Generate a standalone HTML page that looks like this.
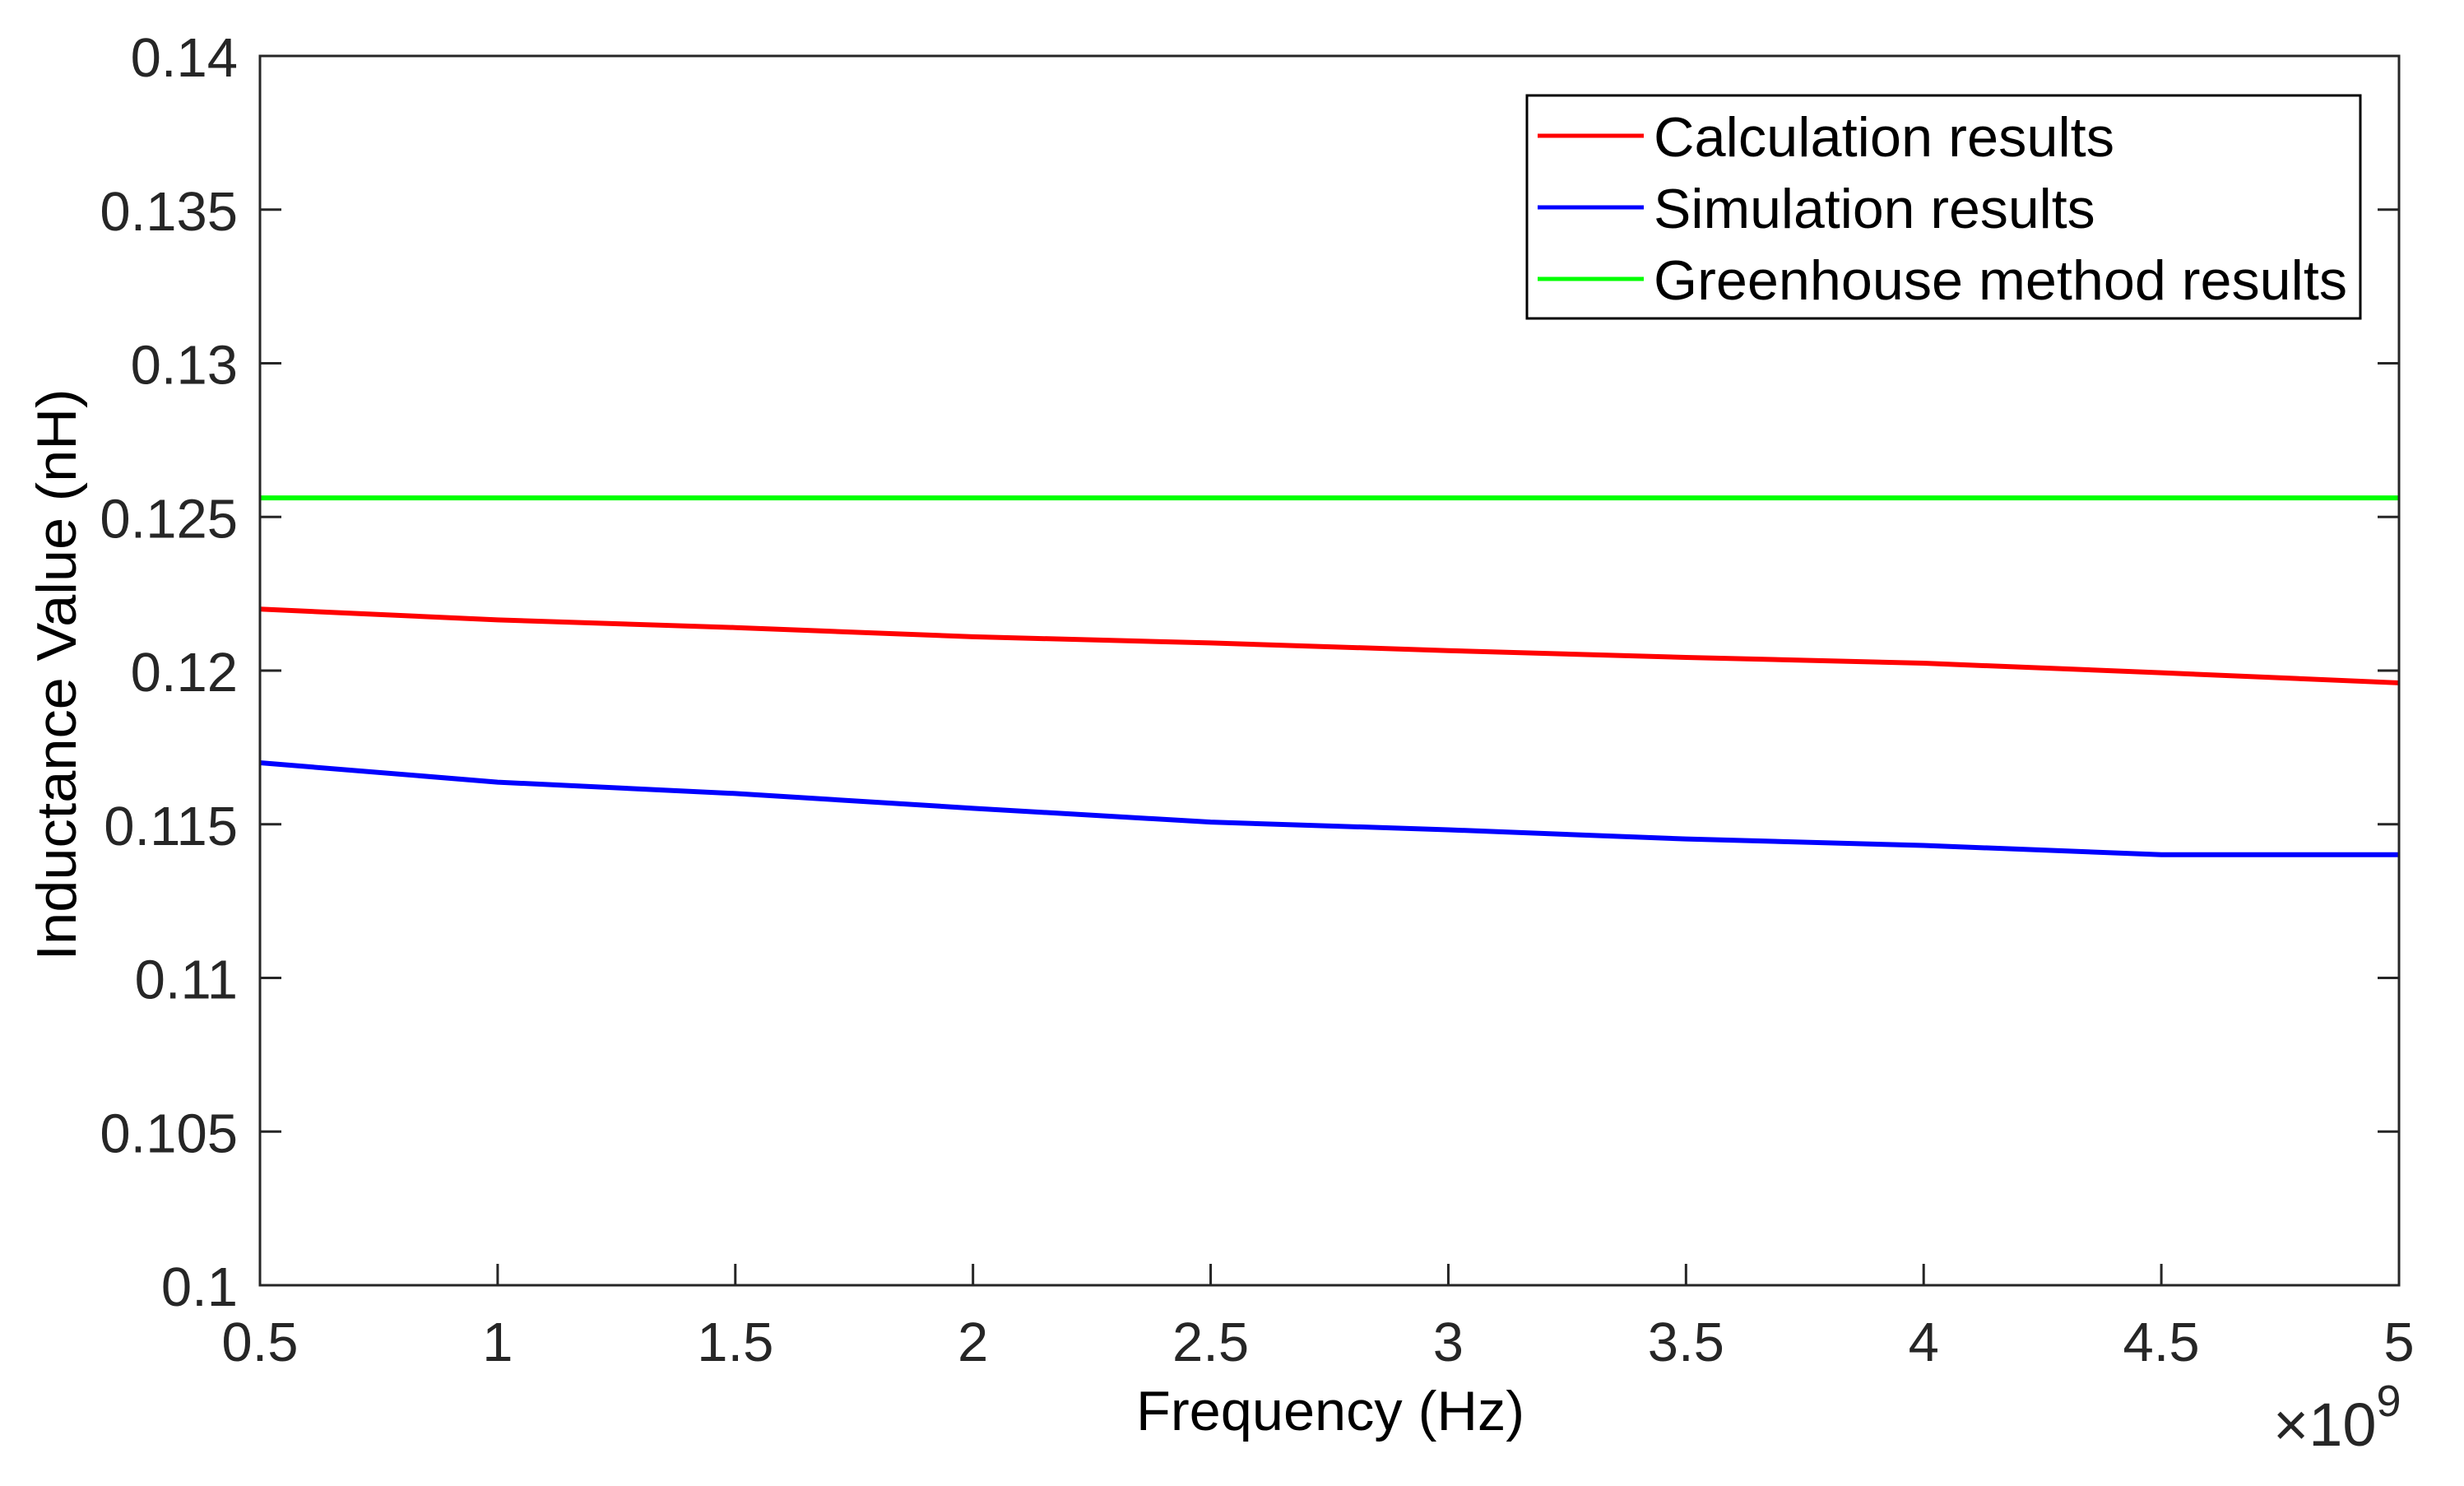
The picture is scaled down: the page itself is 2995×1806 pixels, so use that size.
<!DOCTYPE html>
<html><head><meta charset="utf-8"><style>
html,body{margin:0;padding:0;background:#fff;}
svg{display:block;font-family:"Liberation Sans",Arial,sans-serif;}
</style></head><body>
<svg id="chart" width="2995" height="1806" viewBox="0 0 2995 1806" xmlns="http://www.w3.org/2000/svg">
<rect x="0" y="0" width="2995" height="1806" fill="#fff"/>
<g id="grid"></g>
<g id="series"></g>
<rect x="316" y="68" width="2600" height="1494" fill="none" stroke="#262626" stroke-width="3"/>
<g id="axes"></g>
<text x="1617" y="1738" font-size="68" text-anchor="middle" fill="#000" textLength="472" lengthAdjust="spacingAndGlyphs">Frequency (Hz)</text>
<text transform="translate(92,820) rotate(-90)" font-size="68" text-anchor="middle" fill="#000" textLength="695" lengthAdjust="spacingAndGlyphs">Inductance Value (nH)</text>
<text x="2763" y="1757" font-size="74" fill="#262626">×10<tspan font-size="54" dy="-36">9</tspan></text>
<g>
<rect x="1856" y="116" width="1013" height="271" fill="#fff" stroke="#000" stroke-width="3"/>
<line x1="1869" y1="165" x2="1998" y2="165" stroke="#ff0000" stroke-width="5"/>
<text x="2010" y="190" font-size="68" fill="#000" textLength="560" lengthAdjust="spacingAndGlyphs">Calculation results</text>
<line x1="1869" y1="252" x2="1998" y2="252" stroke="#0000ff" stroke-width="5"/>
<text x="2010" y="277" font-size="68" fill="#000">Simulation results</text>
<line x1="1869" y1="339" x2="1998" y2="339" stroke="#00ff00" stroke-width="5"/>
<text x="2010" y="364" font-size="68" fill="#000" textLength="843" lengthAdjust="spacingAndGlyphs">Greenhouse method results</text>
</g>
</svg>
<script>
const freqs = [0.5, 1, 1.5, 2, 2.5, 3, 3.5, 4, 4.5, 5];
const calcValues = [0.1220, 0.12165, 0.1214, 0.1211, 0.1209, 0.12065, 0.12043, 0.12024, 0.11993, 0.1196];
const simValues = [0.1170, 0.11637, 0.1160, 0.11552, 0.11507, 0.11482, 0.11452, 0.11431, 0.11401, 0.11401];
const greenValues = [0.12562, 0.12562, 0.12562, 0.12562, 0.12562, 0.12562, 0.12562, 0.12562, 0.12562, 0.12562];
const xTicks = [0.5, 1, 1.5, 2, 2.5, 3, 3.5, 4, 4.5, 5];
const xTickLabels = ["0.5", "1", "1.5", "2", "2.5", "3", "3.5", "4", "4.5", "5"];
const yTicks = [0.1, 0.105, 0.11, 0.115, 0.12, 0.125, 0.13, 0.135, 0.14];
const yTickLabels = ["0.1", "0.105", "0.11", "0.115", "0.12", "0.125", "0.13", "0.135", "0.14"];

const NS = "http://www.w3.org/2000/svg";
const L = 316, R = 2916, T = 68, B = 1562;
const xMin = 0.5, xMax = 5, yMin = 0.1, yMax = 0.14;
function xs(v){ return L + (v - xMin) / (xMax - xMin) * (R - L); }
function ys(v){ return B - (v - yMin) / (yMax - yMin) * (B - T); }

const axes = document.getElementById('axes');
xTicks.forEach((t, i) => {
  const x = xs(t);
  const tk = document.createElementNS(NS, 'path');
  tk.setAttribute('d', `M${x},${B}V${B-26}`);
  tk.setAttribute('stroke', '#262626');
  tk.setAttribute('stroke-width', '3');
  
  
  axes.appendChild(tk);
  const tx = document.createElementNS(NS, 'text');
  tx.setAttribute('x', x);
  tx.setAttribute('y', 1654);
  tx.setAttribute('font-size', '67');
  tx.setAttribute('text-anchor', 'middle');
  tx.setAttribute('fill', '#262626');
  tx.textContent = xTickLabels[i];
  
  
  axes.appendChild(tx);
});
yTicks.forEach((t, i) => {
  const y = ys(t);
  const tk = document.createElementNS(NS, 'path');
  tk.setAttribute('d', `M${L},${y}H${L+26}M${R},${y}H${R-26}`);
  tk.setAttribute('stroke', '#262626');
  tk.setAttribute('stroke-width', '3');
  
  
  axes.appendChild(tk);
  const tx = document.createElementNS(NS, 'text');
  tx.setAttribute('x', 289);
  tx.setAttribute('y', y + 25);
  tx.setAttribute('font-size', '67');
  tx.setAttribute('text-anchor', 'end');
  tx.setAttribute('fill', '#262626');
  tx.textContent = yTickLabels[i];
  
  
  axes.appendChild(tx);
});

const series = document.getElementById('series');
function drawLine(vals, color, name){
  const p = document.createElementNS(NS, 'polyline');
  p.setAttribute('points', vals.map((v, i) => `${xs(freqs[i])},${ys(v)}`).join(' '));
  p.setAttribute('fill', 'none');
  p.setAttribute('stroke', color);
  p.setAttribute('stroke-width', '6');
  p.setAttribute('stroke-linejoin', 'round');
  
  
  series.appendChild(p);
}
drawLine(greenValues, '#00ff00', 'greenhouse-line');
drawLine(calcValues, '#ff0000', 'calculation-line');
drawLine(simValues, '#0000ff', 'simulation-line');
</script>
</body></html>
